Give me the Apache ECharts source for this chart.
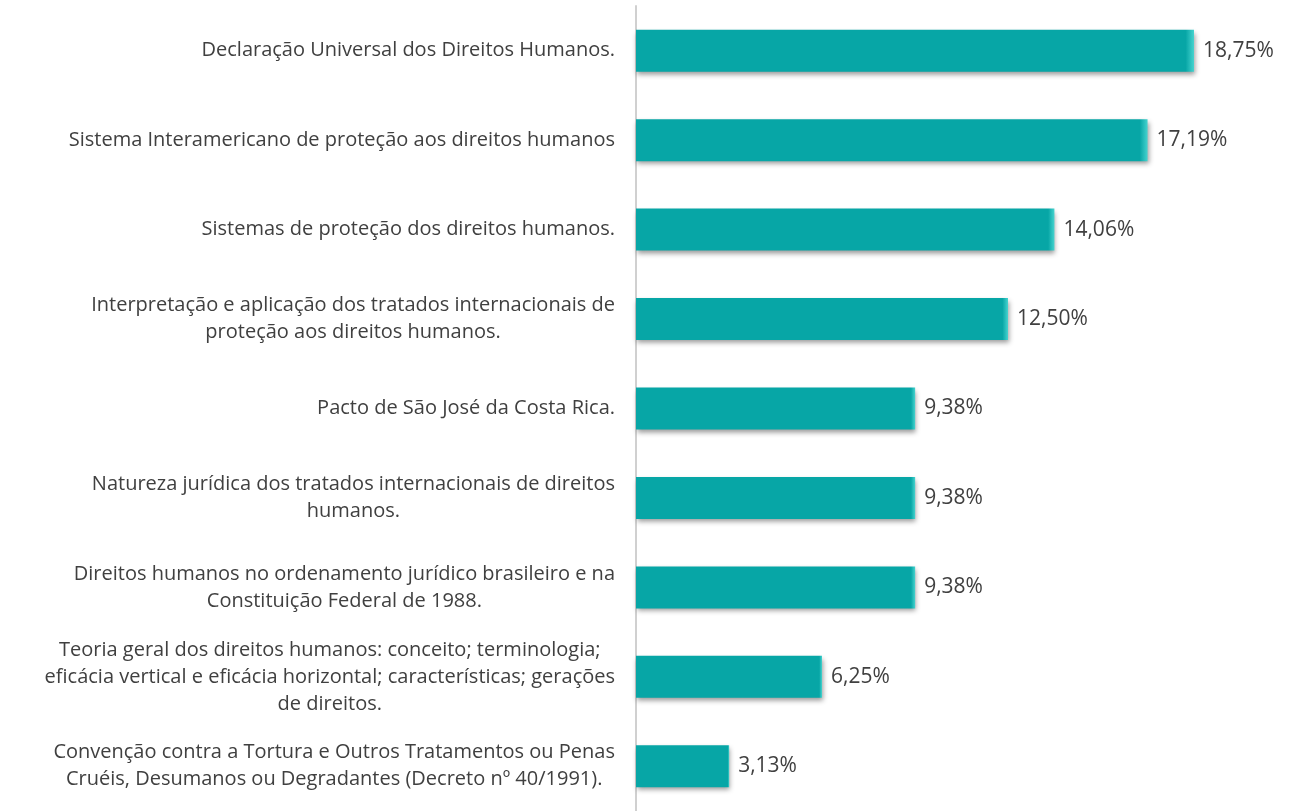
<!DOCTYPE html>
<html><head><meta charset="utf-8">
<script src="https://cdn.jsdelivr.net/npm/echarts@6/dist/echarts.min.js"></script>
<style>html,body{margin:0;padding:0;background:#fff}#c{width:1295px;height:811px}</style>
</head><body><div id="c"></div>
<script>
const categories = [
  "Declaração Universal dos Direitos Humanos.",
  "Sistema Interamericano de proteção aos direitos humanos",
  "Sistemas de proteção dos direitos humanos.",
  "Interpretação e aplicação dos tratados internacionais de\nproteção aos direitos humanos.",
  "Pacto de São José da Costa Rica.",
  "Natureza jurídica dos tratados internacionais de direitos\nhumanos.",
  "Direitos humanos no ordenamento jurídico brasileiro e na\nConstituição Federal de 1988.",
  "Teoria geral dos direitos humanos: conceito; terminologia;\neficácia vertical e eficácia horizontal; características; gerações\nde direitos.",
  "Convenção contra a Tortura e Outros Tratamentos ou Penas\nCruéis, Desumanos ou Degradantes (Decreto nº 40/1991)."
];
const values = [18.75, 17.19, 14.06, 12.50, 9.38, 9.38, 9.38, 6.25, 3.13];

const chart = echarts.init(document.getElementById('c'), null, {renderer: 'canvas'});
chart.setOption({
  animation: false,
  grid: {left: 636, right: 101, top: 6, bottom: -4, containLabel: false},
  xAxis: {type: 'value', min: 0, max: 18.75, show: false},
  yAxis: {
    type: 'category', data: categories, inverse: true,
    axisLine: {show: true, lineStyle: {color: '#d0d0d0', width: 2}},
    axisTick: {show: false},
    axisLabel: {
      margin: 21, align: 'right',
      formatter: v => v.split('\n').map(s => '{c|' + s + '}').join('\n'),
      rich: {c: {align: 'center', fontFamily: 'Open Sans', fontSize: 20, color: '#404040', lineHeight: 27}}
    }
  },
  series: [{
    type: 'bar', data: values, barWidth: 42,
    itemStyle: {
      color: {type: 'linear', x: 0, y: 0, x2: 1, y2: 0, colorStops: [
        {offset: 0, color: '#07a6a6'}, {offset: 0.985, color: '#07a6a6'}, {offset: 1, color: '#46d3cf'}]},
      shadowColor: 'rgba(0,0,0,0.4)', shadowBlur: 5, shadowOffsetX: 1, shadowOffsetY: 3
    },
    label: {
      show: true, position: 'right', distance: 9,
      formatter: p => p.value.toFixed(2).replace('.', ',') + '%',
      fontFamily: 'Open Sans', fontSize: 21, color: '#404040'
    }
  }]
});
</script></body></html>
